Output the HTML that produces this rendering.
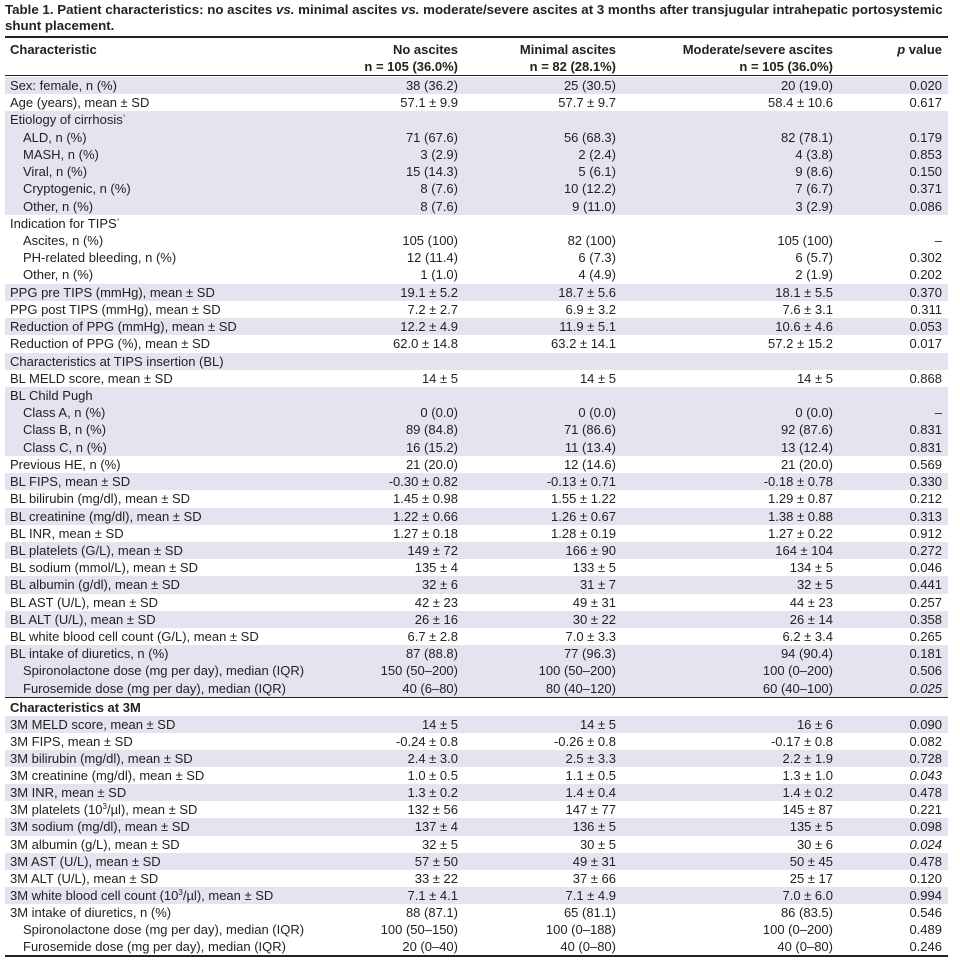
<!DOCTYPE html>
<html><head><meta charset="utf-8"><style>
*{margin:0;padding:0;box-sizing:border-box}
body{width:960px;height:962px;background:#fff;font-family:"Liberation Sans",Arial,sans-serif;color:#222;position:relative;overflow:hidden}
.t{position:absolute;left:5px;font-weight:bold;font-size:13.3px;line-height:16px;white-space:nowrap}
.rule{position:absolute;left:5px;width:943px;background:#222}
.r{position:absolute;left:5px;width:943px;font-size:13px;line-height:17px}
.p{background:#e6e2ef}
.r span{position:absolute;top:0;white-space:nowrap}
.l{left:5px}.i{left:18px}
.c1{right:490px}.c2{right:332px}.c3{right:115px}.c4{right:6px}
.b{font-weight:bold}
sup{font-size:7px;color:#7a5fa8;vertical-align:5px;line-height:0}
sup.n{color:#222;font-size:8px}
</style></head><body>
<div class="t" style="top:2px">Table 1. Patient characteristics: no ascites <i>vs.</i> minimal ascites <i>vs.</i> moderate/severe ascites at 3 months after transjugular intrahepatic portosystemic</div>
<div class="t" style="top:18px">shunt placement.</div>
<div class="rule" style="top:36px;height:2px"></div>
<div class="r b" style="top:41px"><span class="l">Characteristic</span><span class="c1">No ascites</span><span class="c2">Minimal ascites</span><span class="c3">Moderate/severe ascites</span><span class="c4"><i>p</i> value</span></div>
<div class="r b" style="top:58px"><span class="c1">n = 105 (36.0%)</span><span class="c2">n = 82 (28.1%)</span><span class="c3">n = 105 (36.0%)</span></div>
<div class="rule" style="top:75px;height:1px"></div>
<div class="rule" style="top:696px;height:2px"></div>
<div class="rule" style="top:955px;height:2px"></div>
<script>
function row(top,h,cls,cells){var d=document.createElement('div');d.className='r'+(cls?' '+cls:'');d.style.top=top+'px';d.style.height=h+'px';d.style.lineHeight=h+'px';
var c=['l','c1','c2','c3','c4'];var html='';
cells.forEach(function(x,k){if(x===null)return;var cc=c[k];if(k==0&&x.indexOf('>')==0){cc='i';x=x.slice(1);}html+='<span class="'+cc+'">'+x+'</span>';});
d.innerHTML=html;document.body.appendChild(d);}
var A=[
['P','Sex: female, n (%)','38 (36.2)','25 (30.5)','20 (19.0)','0.020'],
['W','Age (years), mean ± SD','57.1 ± 9.9','57.7 ± 9.7','58.4 ± 10.6','0.617'],
['P','Etiology of cirrhosis<sup>*</sup>','','','',''],
['P','>ALD, n (%)','71 (67.6)','56 (68.3)','82 (78.1)','0.179'],
['P','>MASH, n (%)','3 (2.9)','2 (2.4)','4 (3.8)','0.853'],
['P','>Viral, n (%)','15 (14.3)','5 (6.1)','9 (8.6)','0.150'],
['P','>Cryptogenic, n (%)','8 (7.6)','10 (12.2)','7 (6.7)','0.371'],
['P','>Other, n (%)','8 (7.6)','9 (11.0)','3 (2.9)','0.086'],
['W','Indication for TIPS<sup>*</sup>','','','',''],
['W','>Ascites, n (%)','105 (100)','82 (100)','105 (100)','–'],
['W','>PH-related bleeding, n (%)','12 (11.4)','6 (7.3)','6 (5.7)','0.302'],
['W','>Other, n (%)','1 (1.0)','4 (4.9)','2 (1.9)','0.202'],
['P','PPG pre TIPS (mmHg), mean ± SD','19.1 ± 5.2','18.7 ± 5.6','18.1 ± 5.5','0.370'],
['W','PPG post TIPS (mmHg), mean ± SD','7.2 ± 2.7','6.9 ± 3.2','7.6 ± 3.1','0.311'],
['P','Reduction of PPG (mmHg), mean ± SD','12.2 ± 4.9','11.9 ± 5.1','10.6 ± 4.6','0.053'],
['W','Reduction of PPG (%), mean ± SD','62.0 ± 14.8','63.2 ± 14.1','57.2 ± 15.2','0.017'],
['P','Characteristics at TIPS insertion (BL)','','','',''],
['W','BL MELD score, mean ± SD','14 ± 5','14 ± 5','14 ± 5','0.868'],
['P','BL Child Pugh','','','',''],
['P','>Class A, n (%)','0 (0.0)','0 (0.0)','0 (0.0)','–'],
['P','>Class B, n (%)','89 (84.8)','71 (86.6)','92 (87.6)','0.831'],
['P','>Class C, n (%)','16 (15.2)','11 (13.4)','13 (12.4)','0.831'],
['W','Previous HE, n (%)','21 (20.0)','12 (14.6)','21 (20.0)','0.569'],
['P','BL FIPS, mean ± SD','-0.30 ± 0.82','-0.13 ± 0.71','-0.18 ± 0.78','0.330'],
['W','BL bilirubin (mg/dl), mean ± SD','1.45 ± 0.98','1.55 ± 1.22','1.29 ± 0.87','0.212'],
['P','BL creatinine (mg/dl), mean ± SD','1.22 ± 0.66','1.26 ± 0.67','1.38 ± 0.88','0.313'],
['W','BL INR, mean ± SD','1.27 ± 0.18','1.28 ± 0.19','1.27 ± 0.22','0.912'],
['P','BL platelets (G/L), mean ± SD','149 ± 72','166 ± 90','164 ± 104','0.272'],
['W','BL sodium (mmol/L), mean ± SD','135 ± 4','133 ± 5','134 ± 5','0.046'],
['P','BL albumin (g/dl), mean ± SD','32 ± 6','31 ± 7','32 ± 5','0.441'],
['W','BL AST (U/L), mean ± SD','42 ± 23','49 ± 31','44 ± 23','0.257'],
['P','BL ALT (U/L), mean ± SD','26 ± 16','30 ± 22','26 ± 14','0.358'],
['W','BL white blood cell count (G/L), mean ± SD','6.7 ± 2.8','7.0 ± 3.3','6.2 ± 3.4','0.265'],
['P','BL intake of diuretics, n (%)','87 (88.8)','77 (96.3)','94 (90.4)','0.181'],
['P','>Spironolactone dose (mg per day), median (IQR)','150 (50–200)','100 (50–200)','100 (0–200)','0.506'],
['P','>Furosemide dose (mg per day), median (IQR)','40 (6–80)','80 (40–120)','60 (40–100)','<i>0.025</i>']
];
var B=[
['W','<b>Characteristics at 3M</b>','','','',''],
['P','3M MELD score, mean ± SD','14 ± 5','14 ± 5','16 ± 6','0.090'],
['W','3M FIPS, mean ± SD','-0.24 ± 0.8','-0.26 ± 0.8','-0.17 ± 0.8','0.082'],
['P','3M bilirubin (mg/dl), mean ± SD','2.4 ± 3.0','2.5 ± 3.3','2.2 ± 1.9','0.728'],
['W','3M creatinine (mg/dl), mean ± SD','1.0 ± 0.5','1.1 ± 0.5','1.3 ± 1.0','<i>0.043</i>'],
['P','3M INR, mean ± SD','1.3 ± 0.2','1.4 ± 0.4','1.4 ± 0.2','0.478'],
['W','3M platelets (10<sup class="n">3</sup>/µl), mean ± SD','132 ± 56','147 ± 77','145 ± 87','0.221'],
['P','3M sodium (mg/dl), mean ± SD','137 ± 4','136 ± 5','135 ± 5','0.098'],
['W','3M albumin (g/L), mean ± SD','32 ± 5','30 ± 5','30 ± 6','<i>0.024</i>'],
['P','3M AST (U/L), mean ± SD','57 ± 50','49 ± 31','50 ± 45','0.478'],
['W','3M ALT (U/L), mean ± SD','33 ± 22','37 ± 66','25 ± 17','0.120'],
['P','3M white blood cell count (10<sup class="n">3</sup>/µl), mean ± SD','7.1 ± 4.1','7.1 ± 4.9','7.0 ± 6.0','0.994'],
['W','3M intake of diuretics, n (%)','88 (87.1)','65 (81.1)','86 (83.5)','0.546'],
['W','>Spironolactone dose (mg per day), median (IQR)','100 (50–150)','100 (0–188)','100 (0–200)','0.489'],
['W','>Furosemide dose (mg per day), median (IQR)','20 (0–40)','40 (0–80)','40 (0–80)','0.246']
];
var h=17.22;A.forEach(function(a,k){row(77+k*h,h,a[0]=='P'?'p':'',a.slice(1));});
var h2=17.07;B.forEach(function(a,k){row(699+k*h2,h2,a[0]=='P'?'p':'',a.slice(1));});
</script>
</body></html>
